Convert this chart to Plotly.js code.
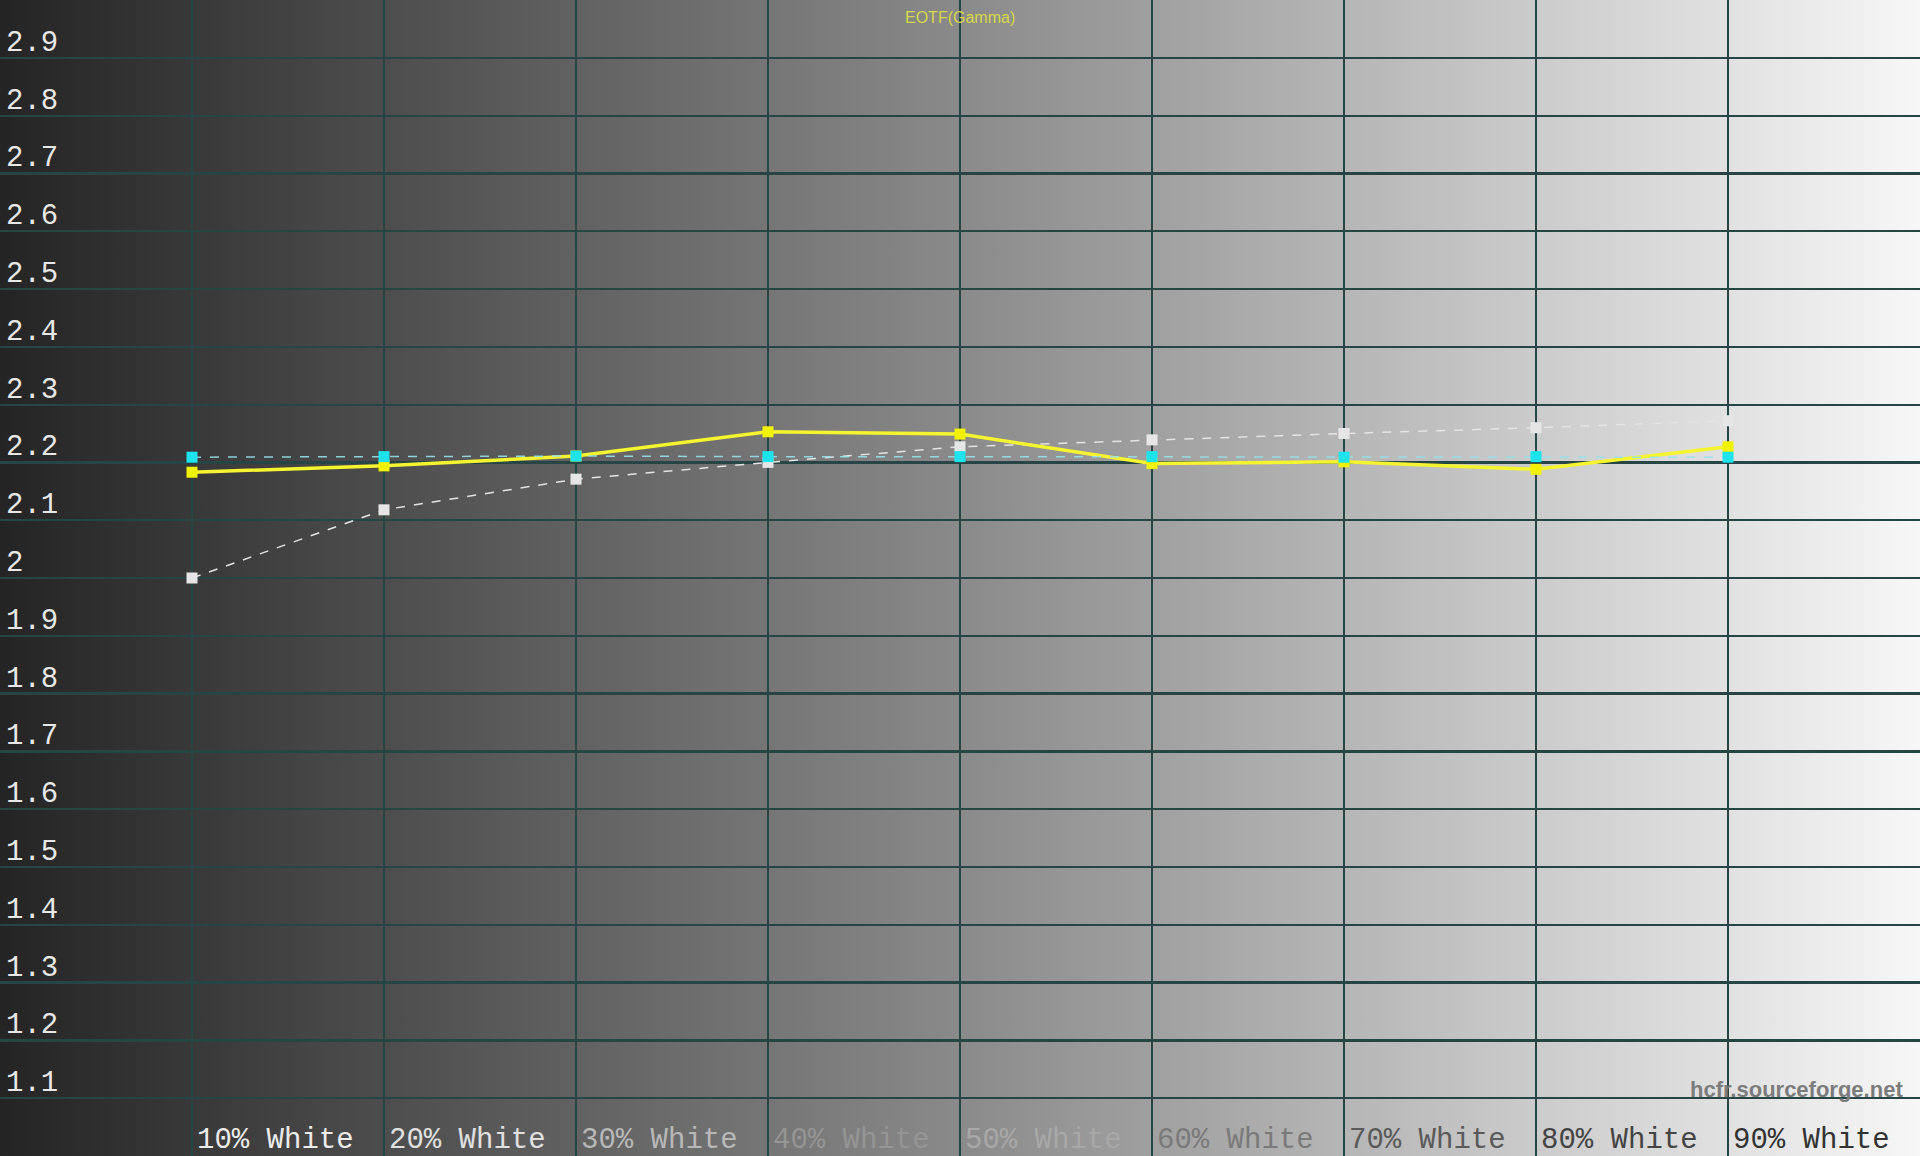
<!DOCTYPE html>
<html>
<head>
<meta charset="utf-8">
<script src="https://cdn.plot.ly/plotly-3.0.1.min.js"></script>
<style>
  html, body { margin: 0; padding: 0; }
  #chart { width: 1920px; height: 1156px; background: linear-gradient(to right, #242424 0%, #8a8a8a 50%, #f7f7f7 100%); }
</style>
</head>
<body>
<div id="chart"></div>
<script>
// Categories (x positions 1..9)
const categories = ["10% White", "20% White", "30% White", "40% White", "50% White", "60% White", "70% White", "80% White", "90% White"];
const xPos = [1, 2, 3, 4, 5, 6, 7, 8, 9];

// Measured gamma (yellow)
const measuredGamma = [2.183, 2.194, 2.211, 2.253, 2.249, 2.198, 2.201, 2.188, 2.227];
// Target gamma (cyan)
const targetGamma = [2.209, 2.210, 2.211, 2.210, 2.210, 2.210, 2.209, 2.210, 2.209];
// Reference curve (grey dashed)
const referenceGamma = [2.000, 2.118, 2.171, 2.200, 2.227, 2.239, 2.250, 2.260, 2.272];

// Axis tick values
const yTicks = [1.1, 1.2, 1.3, 1.4, 1.5, 1.6, 1.7, 1.8, 1.9, 2.0, 2.1, 2.2, 2.3, 2.4, 2.5, 2.6, 2.7, 2.8, 2.9];
const yTickLabels = ["1.1", "1.2", "1.3", "1.4", "1.5", "1.6", "1.7", "1.8", "1.9", "2", "2.1", "2.2", "2.3", "2.4", "2.5", "2.6", "2.7", "2.8", "2.9"];
const xLabelColors = ["#ececec", "#e0e0e0", "#b8b8b8", "#959595", "#a8a8a8", "#7a7a7a", "#5a5a5a", "#444444", "#333333"];

const traces = [
  {
    x: xPos, y: referenceGamma, type: "scatter", mode: "lines+markers",
    line: { color: "#e4e4e4", width: 1.5, dash: "dash" },
    marker: { symbol: "square", size: 11, color: "#e6e6e6" },
    hoverinfo: "skip"
  },
  {
    x: xPos, y: measuredGamma, type: "scatter", mode: "lines+markers",
    line: { color: "#f4f430", width: 3.5 },
    marker: { symbol: "square", size: 11, color: "#f2f200" },
    hoverinfo: "skip"
  },
  {
    x: xPos, y: targetGamma, type: "scatter", mode: "lines+markers",
    line: { color: "rgba(150,225,235,0.9)", width: 1.5, dash: "dash" },
    marker: { symbol: "square", size: 11, color: "#1ee3ec" },
    hoverinfo: "skip"
  }
];

const annotations = [];
yTicks.forEach((v, i) => {
  annotations.push({
    x: 0, y: v, xref: "x", yref: "y", xanchor: "left", yanchor: "bottom",
    xshift: 4, yshift: -4, showarrow: false, text: yTickLabels[i],
    font: { family: "Liberation Mono, DejaVu Sans Mono, monospace", size: 29, color: "#e8e8e8" }
  });
});
categories.forEach((c, i) => {
  annotations.push({
    x: xPos[i], y: 1.0, xref: "x", yref: "y", xanchor: "left", yanchor: "bottom",
    xshift: 3, yshift: -3, showarrow: false, text: c,
    font: { family: "Liberation Mono, DejaVu Sans Mono, monospace", size: 29, color: xLabelColors[i] }
  });
});
annotations.push({
  x: 0.5, y: 1, xref: "paper", yref: "paper", xanchor: "center", yanchor: "top",
  yshift: -7, showarrow: false, text: "EOTF(Gamma)",
  font: { family: "Liberation Sans Narrow, Liberation Sans, Arial, sans-serif", size: 16, color: "#d8d84a" }
});
annotations.push({
  x: 1905 / 1920, y: 1.1, xref: "paper", yref: "y", xanchor: "right", yanchor: "bottom",
  yshift: -6, showarrow: false, text: "<b>hcfr.sourceforge.net</b>",
  font: { family: "Liberation Sans Narrow, Liberation Sans, Arial, sans-serif", size: 22, color: "#7c7c7c" }
});

const layout = {
  width: 1920, height: 1156,
  margin: { l: 0, r: 0, t: 0, b: 0 },
  paper_bgcolor: "rgba(0,0,0,0)",
  plot_bgcolor: "rgba(0,0,0,0)",
  showlegend: false,
  xaxis: {
    range: [0, 10], tickvals: xPos, showticklabels: false, ticks: "",
    showgrid: true, gridcolor: "#284545", gridwidth: 2.2, zeroline: false,
    showline: false, fixedrange: true
  },
  yaxis: {
    range: [1, 3], tickvals: yTicks, showticklabels: false, ticks: "",
    showgrid: true, gridcolor: "#284545", gridwidth: 2.2, zeroline: false,
    showline: true, linecolor: "#284545", linewidth: 3, fixedrange: true
  },
  annotations: annotations
};

Plotly.newPlot("chart", traces, layout, { staticPlot: true, displayModeBar: false });
</script>
</body>
</html>
